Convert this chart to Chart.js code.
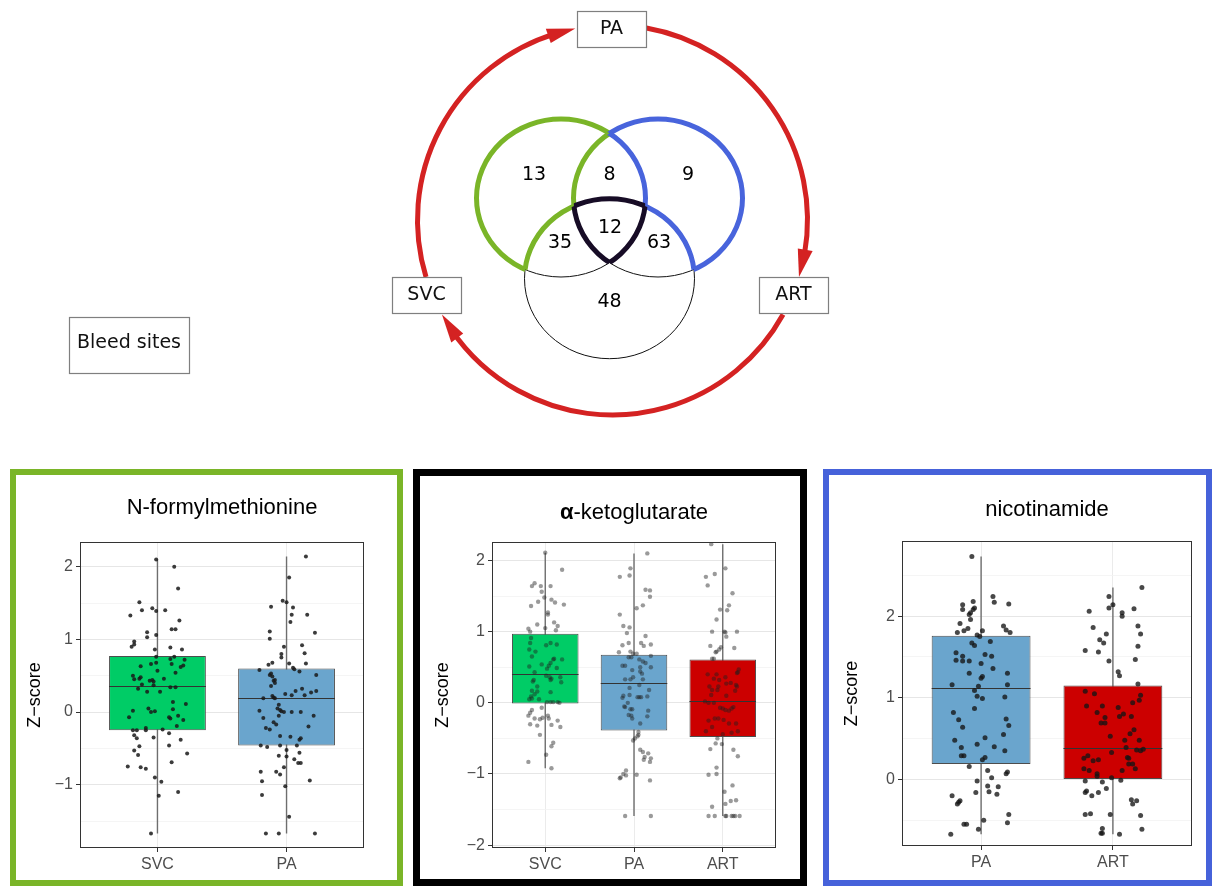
<!DOCTYPE html>
<html>
<head>
<meta charset="utf-8">
<title>Bleed sites – metabolite overlap</title>
<script src="https://cdn.jsdelivr.net/npm/chart.js@4.4.1/dist/chart.umd.min.js"></script>
<style>
  html, body { margin: 0; padding: 0; background: #fff; }
  body { width: 1212px; height: 886px; position: relative; overflow: hidden; }
  .frame { position: absolute; box-sizing: border-box; background: #fff; }
  canvas { position: absolute; left: 0; top: 0; display: block; }
</style>
</head>
<body>
<canvas id="overview" width="1212" height="462"></canvas>

<div class="frame" style="left:10px;top:469px;width:393px;height:417px;border:6px solid #7ab528;">
  <canvas id="fmet" width="381" height="405"></canvas>
</div>
<div class="frame" style="left:413px;top:469px;width:394px;height:417px;border:7px solid #000;">
  <canvas id="akg" width="380" height="403"></canvas>
</div>
<div class="frame" style="left:823px;top:469px;width:389px;height:417px;border:6px solid #4662da;">
  <canvas id="nic" width="377" height="405"></canvas>
</div>

<script>
// ---------------------------------------------------------------------------
// Data
// ---------------------------------------------------------------------------

// Sampling sites around the circulation
const siteNames = ['PA', 'ART', 'SVC'];
const legendLabel = 'Bleed sites';

// Venn regions: S = SVC–PA, A = PA–ART, C = SVC–ART comparisons
const vennRegions = ['S', 'SA', 'A', 'SC', 'SAC', 'AC', 'C'];
const vennCounts  = [13, 8, 9, 35, 12, 63, 48];

// N-formylmethionine
const fmetGroups = ['SVC', 'PA'];
const fmetQ1     = [-0.25, -0.46];
const fmetMedian = [0.36, 0.19];
const fmetQ3     = [0.77, 0.60];
const fmetLow    = [-1.67, -1.67];
const fmetHigh   = [2.10, 2.14];
const fmetYTicks = [-1.5, -1, -0.5, 0, 0.5, 1, 1.5, 2];
// [jitter, z-score]
const fmetSVC = [
  [-0.01,2.10],[0.13,2.00],[0.16,1.70],[-0.14,1.51],[-0.12,1.40],[-0.04,1.43],[-0.01,1.39],[0.06,1.40],[-0.21,1.33],[0.17,1.26],
  [0.11,1.14],[0.14,1.14],[-0.08,1.10],[-0.08,1.03],[-0.01,1.06],[-0.18,0.97],[-0.18,0.93],[-0.20,0.90],[0.10,0.89],[-0.02,0.86],
  [0.19,0.86],[-0.01,0.76],[0.13,0.76],[0.10,0.73],[0.21,0.72],[-0.01,0.68],[-0.05,0.66],[0.11,0.66],[0.20,0.64],[0.18,0.62],
  [-0.13,0.63],[0.00,0.57],[0.14,0.54],[-0.19,0.50],[-0.18,0.45],[-0.14,0.46],[-0.13,0.48],[0.05,0.46],[-0.06,0.43],[-0.04,0.44],
  [-0.03,0.42],[-0.12,0.38],[-0.03,0.37],[0.10,0.34],[0.14,0.34],[-0.15,0.32],[-0.08,0.28],[0.02,0.28],[0.12,0.14],[0.22,0.11],
  [-0.07,0.05],[0.12,0.04],[-0.19,0.02],[-0.05,0.00],[-0.02,0.01],[0.09,-0.07],[0.16,-0.05],[-0.22,-0.07],[0.10,-0.09],[0.20,-0.11],
  [0.15,-0.19],[-0.09,-0.22],[-0.19,-0.25],[-0.16,-0.25],[-0.09,-0.25],[0.04,-0.24],[-0.18,-0.32],[0.09,-0.29],[-0.16,-0.36],[-0.03,-0.35],
  [0.18,-0.38],[-0.14,-0.47],[0.09,-0.46],[-0.18,-0.53],[0.23,-0.57],[-0.15,-0.59],[0.11,-0.69],[-0.23,-0.75],[-0.13,-0.76],[-0.09,-0.78],
  [-0.02,-0.90],[0.03,-0.96],[0.01,-1.15],[0.16,-1.10],[-0.05,-1.67]
];
const fmetPA = [
  [0.15,2.14],[0.02,1.85],[-0.03,1.53],[0.00,1.51],[-0.12,1.45],[0.05,1.44],[0.04,1.34],[0.16,1.34],[0.03,1.24],[-0.13,1.11],
  [0.22,1.09],[-0.13,1.01],[0.12,0.92],[-0.02,0.90],[0.14,0.81],[-0.04,0.80],[-0.04,0.75],[-0.11,0.68],[-0.14,0.65],[0.02,0.67],
  [0.15,0.67],[0.05,0.61],[0.06,0.59],[0.10,0.56],[-0.21,0.58],[-0.13,0.51],[-0.12,0.53],[-0.11,0.49],[0.23,0.51],[-0.09,0.44],
  [-0.10,0.43],[-0.09,0.40],[-0.12,0.36],[0.07,0.29],[0.12,0.32],[-0.01,0.25],[0.04,0.23],[0.14,0.23],[0.19,0.27],[0.23,0.29],
  [-0.11,0.22],[-0.10,0.20],[-0.09,0.19],[-0.18,0.19],[-0.06,0.10],[-0.07,0.05],[-0.05,0.03],[-0.04,0.01],[-0.02,0.00],[-0.21,0.02],
  [0.04,0.00],[0.11,0.00],[-0.06,-0.05],[0.21,-0.05],[-0.18,-0.08],[-0.10,-0.14],[-0.08,-0.17],[0.17,-0.20],[-0.16,-0.22],[-0.13,-0.24],
  [-0.05,-0.33],[0.03,-0.34],[0.11,-0.36],[0.10,-0.38],[0.08,-0.46],[-0.20,-0.46],[-0.15,-0.48],[-0.05,-0.46],[0.00,-0.52],[0.10,-0.56],
  [-0.06,-0.60],[0.00,-0.61],[0.06,-0.65],[0.09,-0.70],[0.11,-0.70],[-0.02,-0.76],[-0.20,-0.82],[-0.08,-0.82],[-0.05,-0.86],[-0.19,-0.95],
  [0.18,-0.94],[-0.01,-1.02],[-0.19,-1.14],[0.02,-1.44],[-0.16,-1.67],[-0.06,-1.67],[0.22,-1.67]
];

// alpha-ketoglutarate
const akgGroups = ['SVC', 'PA', 'ART'];
const akgQ1     = [-0.01, -0.39, -0.48];
const akgMedian = [0.40, 0.285, 0.02];
const akgQ3     = [0.97, 0.675, 0.61];
const akgLow    = [-0.92, -1.59, -1.59];
const akgHigh   = [2.11, 2.10, 2.23];
const akgYTicks = [-2, -1.5, -1, -0.5, 0, 0.5, 1, 1.5, 2];
const akgSVC = [
  [0.00,2.11],[0.19,1.87],[-0.12,1.68],[-0.15,1.64],[-0.05,1.64],[0.06,1.64],[-0.04,1.56],[-0.01,1.48],[0.07,1.45],[0.11,1.41],
  [-0.08,1.42],[0.21,1.38],[-0.16,1.36],[0.03,1.27],[0.03,1.24],[0.10,1.13],[-0.09,1.10],[0.14,1.08],[0.00,1.05],[-0.19,1.04],
  [-0.17,1.00],[0.12,1.02],[-0.16,0.91],[-0.17,0.84],[0.06,0.84],[0.01,0.81],[0.13,0.82],[-0.18,0.75],[-0.11,0.72],[-0.15,0.65],
  [0.10,0.62],[0.09,0.61],[0.19,0.61],[0.06,0.56],[-0.04,0.54],[0.04,0.52],[-0.18,0.51],[0.02,0.48],[0.13,0.49],[-0.12,0.43],
  [0.01,0.38],[0.05,0.36],[0.07,0.34],[0.17,0.36],[-0.14,0.30],[-0.13,0.32],[0.18,0.29],[0.06,0.32],[-0.09,0.23],[-0.15,0.17],
  [-0.09,0.16],[0.06,0.15],[-0.12,0.12],[-0.16,0.09],[-0.18,0.05],[-0.15,0.06],[-0.07,0.05],[0.02,0.01],[0.06,0.01],[0.09,0.01],
  [0.14,0.01],[0.16,0.00],[-0.04,-0.07],[-0.15,-0.10],[-0.17,-0.14],[-0.19,-0.18],[-0.12,-0.22],[-0.06,-0.23],[-0.03,-0.21],[0.03,-0.18],
  [0.04,-0.22],[0.14,-0.25],[-0.17,-0.30],[-0.09,-0.32],[0.07,-0.31],[0.17,-0.34],[-0.06,-0.45],[0.09,-0.56],[0.07,-0.61],[0.01,-0.73],
  [-0.19,-0.83],[0.07,-0.92]
];
const akgPA = [
  [0.15,2.10],[-0.04,1.89],[-0.05,1.79],[-0.16,1.77],[0.13,1.59],[0.18,1.58],[0.18,1.49],[0.10,1.37],[0.03,1.33],[-0.16,1.24],
  [-0.12,1.08],[-0.05,1.06],[-0.08,0.98],[0.13,0.94],[-0.06,0.84],[-0.13,0.81],[0.08,0.84],[0.11,0.80],[0.19,0.82],[-0.17,0.71],
  [-0.04,0.72],[-0.01,0.69],[0.03,0.69],[-0.06,0.64],[-0.03,0.64],[0.06,0.61],[0.19,0.66],[0.10,0.58],[0.13,0.56],[-0.13,0.52],
  [-0.10,0.52],[-0.02,0.46],[0.07,0.50],[0.19,0.50],[0.07,0.44],[0.09,0.41],[-0.01,0.36],[-0.10,0.33],[-0.04,0.33],[0.10,0.33],
  [0.06,0.25],[-0.05,0.21],[0.17,0.18],[-0.12,0.10],[-0.13,0.07],[-0.05,0.11],[0.04,0.08],[0.06,0.08],[0.08,0.08],[0.15,0.09],
  [-0.07,0.00],[-0.11,-0.05],[-0.10,-0.06],[-0.04,-0.09],[-0.02,-0.09],[0.16,-0.11],[-0.06,-0.17],[-0.03,-0.18],[0.15,-0.19],[-0.02,-0.22],
  [0.07,-0.29],[0.05,-0.41],[0.05,-0.45],[0.04,-0.47],[0.01,-0.50],[-0.01,-0.53],[0.07,-0.66],[0.10,-0.69],[0.16,-0.71],[0.12,-0.76],
  [0.19,-0.78],[0.11,-0.80],[0.18,-0.83],[-0.09,-0.95],[-0.12,-1.00],[-0.09,-1.02],[-0.15,-1.05],[-0.16,-1.06],[0.03,-1.01],[0.18,-1.09],
  [-0.10,-1.59],[0.19,-1.59]
];
const akgART = [
  [-0.13,2.23],[0.03,1.89],[-0.19,1.77],[-0.09,1.81],[-0.17,1.65],[0.11,1.54],[0.07,1.37],[-0.03,1.31],[0.05,1.30],[-0.07,1.17],
  [-0.12,1.00],[0.02,1.00],[0.03,0.99],[0.16,1.00],[0.04,0.93],[-0.14,0.80],[-0.02,0.78],[0.13,0.77],[-0.04,0.75],[-0.07,0.72],
  [-0.08,0.71],[-0.12,0.62],[-0.10,0.62],[0.18,0.47],[0.16,0.42],[0.17,0.43],[-0.17,0.40],[-0.07,0.40],[0.03,0.36],[-0.10,0.34],
  [-0.04,0.32],[-0.15,0.23],[-0.05,0.23],[0.09,0.28],[0.04,0.27],[0.15,0.25],[0.16,0.23],[0.14,0.17],[-0.12,0.18],[-0.06,0.18],
  [0.04,0.10],[-0.13,0.11],[-0.20,0.02],[-0.16,0.00],[-0.10,0.00],[-0.03,-0.07],[0.00,-0.08],[0.03,-0.10],[0.12,-0.06],[0.10,-0.08],
  [0.07,-0.11],[-0.16,-0.25],[-0.09,-0.22],[-0.05,-0.22],[0.01,-0.24],[0.07,-0.29],[0.15,-0.29],[-0.12,-0.34],[-0.19,-0.40],[0.00,-0.44],
  [0.10,-0.42],[0.17,-0.40],[-0.06,-0.50],[-0.08,-0.57],[-0.01,-0.58],[-0.14,-0.65],[0.12,-0.66],[0.17,-0.75],[-0.07,-0.91],[-0.16,-1.01],
  [-0.07,-1.00],[0.11,-1.16],[0.02,-1.25],[0.09,-1.38],[0.15,-1.37],[0.03,-1.42],[-0.12,-1.46],[-0.16,-1.59],[-0.09,-1.59],[0.03,-1.59],
  [0.04,-1.59],[0.10,-1.59],[0.12,-1.59],[0.14,-1.59],[0.19,-1.59]
];

// nicotinamide
const nicGroups = ['PA', 'ART'];
const nicQ1     = [0.19, 0.00];
const nicMedian = [1.12, 0.38];
const nicQ3     = [1.76, 1.15];
const nicLow    = [-0.67, -0.67];
const nicHigh   = [2.73, 2.35];
const nicYTicks = [-0.5, 0, 0.5, 1, 1.5, 2, 2.5];
const nicPA = [
  [-0.07,2.73],[0.09,2.24],[0.10,2.17],[0.21,2.15],[-0.14,2.14],[-0.14,2.08],[-0.06,2.18],[-0.05,2.10],[-0.06,2.08],[-0.08,2.04],
  [-0.09,2.02],[-0.08,1.96],[-0.16,1.91],[-0.10,1.85],[-0.13,1.82],[-0.18,1.80],[0.01,1.82],[0.17,1.88],[0.19,1.83],[0.22,1.80],
  [-0.03,1.77],[-0.01,1.75],[0.07,1.69],[-0.07,1.67],[-0.05,1.64],[-0.19,1.55],[-0.19,1.46],[-0.14,1.51],[-0.14,1.45],[-0.09,1.45],
  [0.03,1.53],[0.08,1.51],[0.00,1.42],[0.09,1.36],[-0.09,1.30],[0.01,1.26],[0.00,1.24],[0.20,1.30],[-0.22,1.16],[0.20,1.16],
  [-0.02,1.14],[-0.05,1.09],[-0.03,1.02],[0.01,0.99],[0.18,1.01],[-0.05,0.87],[-0.21,0.82],[-0.17,0.73],[0.19,0.74],[-0.14,0.64],
  [0.21,0.66],[0.17,0.55],[-0.20,0.48],[0.03,0.51],[-0.03,0.43],[-0.15,0.39],[0.10,0.40],[0.18,0.35],[-0.15,0.29],[-0.13,0.29],
  [0.01,0.24],[0.03,0.27],[-0.09,0.16],[0.05,0.11],[0.20,0.09],[0.19,0.07],[0.08,0.02],[-0.03,-0.02],[0.05,-0.08],[0.13,-0.09],
  [-0.04,-0.16],[0.06,-0.15],[0.12,-0.18],[-0.22,-0.20],[-0.16,-0.26],[-0.17,-0.28],[-0.18,-0.30],[0.21,-0.43],[0.02,-0.50],[-0.13,-0.55],
  [-0.11,-0.55],[0.20,-0.53],[-0.02,-0.61],[-0.23,-0.67]
];
const nicART = [
  [0.22,2.35],[-0.03,2.24],[0.00,2.14],[-0.03,2.10],[-0.18,2.06],[0.07,2.04],[0.07,2.00],[0.16,2.09],[-0.15,1.86],[0.19,1.88],
  [-0.05,1.78],[0.21,1.78],[-0.10,1.71],[-0.07,1.67],[0.19,1.63],[-0.21,1.58],[-0.11,1.56],[0.17,1.47],[-0.03,1.45],[0.04,1.32],
  [0.05,1.27],[0.19,1.17],[-0.21,1.08],[-0.14,1.05],[0.21,1.03],[0.20,0.97],[-0.20,0.90],[-0.08,0.90],[0.04,0.88],[0.15,0.94],
  [-0.12,0.82],[0.08,0.80],[0.05,0.77],[0.14,0.77],[-0.06,0.76],[-0.09,0.69],[-0.06,0.69],[0.16,0.61],[0.13,0.56],[-0.02,0.53],
  [0.20,0.48],[0.09,0.48],[0.10,0.39],[0.18,0.36],[0.21,0.35],[0.23,0.37],[-0.01,0.33],[-0.19,0.29],[-0.22,0.26],[-0.15,0.23],
  [-0.11,0.24],[0.11,0.27],[0.12,0.26],[0.12,0.19],[0.15,0.19],[0.17,0.13],[-0.22,0.13],[-0.18,0.11],[0.07,0.11],[-0.12,0.07],
  [-0.12,0.04],[-0.01,0.02],[0.06,-0.01],[-0.21,-0.02],[-0.08,-0.03],[-0.20,-0.14],[-0.21,-0.16],[-0.16,-0.20],[-0.11,-0.16],[-0.05,-0.11],
  [0.14,-0.25],[0.15,-0.30],[0.18,-0.26],[-0.21,-0.43],[-0.17,-0.42],[-0.02,-0.43],[0.21,-0.44],[-0.08,-0.60],[0.22,-0.61],[-0.09,-0.66],
  [-0.08,-0.66],[0.05,-0.67]
];

// ---------------------------------------------------------------------------
// Styling
// ---------------------------------------------------------------------------
const siteFill = { SVC: '#00cc66', PA: '#6aa5cd', ART: '#cc0000' };
const GREEN = '#7ab528', BLUE = '#4864dc', DARK = '#170c26', RED = '#d42222';
const SANS = '"Liberation Sans", Arial, sans-serif';
const VERD = '"DejaVu Sans", Verdana, sans-serif';

// ---------------------------------------------------------------------------
// Overview: circulation ring with the three bleed sites and the Venn diagram
// ---------------------------------------------------------------------------
const overviewLayout = {
  ring: { cx: 612.5, cy: 220, r: 195, width: 5 },
  // arcs in degrees (clockwise, screen orientation): SVC→PA, PA→ART, ART→SVC
  arcs: [[163, 259], [-80, 17], [29, 151]],
  arrow: { len: 28, half: 7.5 },
  boxes: { PA: [577, 11, 69, 36], ART: [759, 277, 69, 36], SVC: [392, 277, 69, 36] },
  legendBox: [69, 317, 120, 56],
  ellipses: {
    S: { cx: 561, cy: 198, rx: 84.5, ry: 79 },
    A: { cx: 658, cy: 198, rx: 84.5, ry: 79 },
    C: { cx: 609.5, cy: 278.7, rx: 85, ry: 80 }
  },
  regionPos: { S: [534, 175], SA: [609.5, 175], A: [688, 175], SC: [560, 243], SAC: [610, 228], AC: [659, 243], C: [609.5, 302] }
};

const overviewPlugin = {
  id: 'overviewDrawing',
  afterDraw(chart) {
    const { ctx, scales: { x, y }, width, height } = chart;
    const L = overviewLayout;
    const X = v => x.getPixelForValue(v);
    const Y = v => y.getPixelForValue(v);
    const deg = d => d * Math.PI / 180;

    // --- ring arcs with arrowheads
    const cx = X(L.ring.cx), cy = Y(L.ring.cy), r = X(L.ring.cx + L.ring.r) - cx;
    ctx.save();
    ctx.strokeStyle = RED; ctx.fillStyle = RED; ctx.lineWidth = L.ring.width; ctx.lineCap = 'butt';
    L.arcs.forEach(([a0, a1]) => {
      const s = deg(a0), e = deg(a1), back = L.arrow.len / r;
      ctx.beginPath();
      ctx.arc(cx, cy, r, s, e - back * 0.6, false);
      ctx.stroke();
      const b = e - back;
      const tx = cx + r * Math.cos(e), ty = cy + r * Math.sin(e);
      const bx = cx + r * Math.cos(b), by = cy + r * Math.sin(b);
      const nx = Math.cos(b), ny = Math.sin(b);
      ctx.beginPath();
      ctx.moveTo(tx, ty);
      ctx.lineTo(bx + nx * L.arrow.half, by + ny * L.arrow.half);
      ctx.lineTo(bx - nx * L.arrow.half, by - ny * L.arrow.half);
      ctx.closePath();
      ctx.fill();
    });
    ctx.restore();

    // --- site boxes and the legend box
    const drawLabelBox = (rect, text, dy) => {
      const [bx, by, bw, bh] = rect;
      const px = X(bx), py = Y(by), pw = X(bx + bw) - px, ph = Y(by + bh) - py;
      ctx.save();
      ctx.fillStyle = '#fff'; ctx.fillRect(px, py, pw, ph);
      ctx.strokeStyle = '#7f7f7f'; ctx.lineWidth = 1.2;
      ctx.strokeRect(Math.round(px) + 0.5, Math.round(py) + 0.5, Math.round(pw), Math.round(ph));
      ctx.fillStyle = '#111'; ctx.font = '19px ' + VERD;
      ctx.textAlign = 'center'; ctx.textBaseline = 'middle';
      ctx.fillText(text, px + pw / 2, py + ph / 2 + (dy || 0));
      ctx.restore();
    };
    siteNames.forEach(name => drawLabelBox(L.boxes[name], name, 0));
    drawLabelBox(L.legendBox, legendLabel, -2);

    // --- Venn diagram
    const E = L.ellipses;
    const ellipsePath = e => {
      const ex = X(e.cx), ey = Y(e.cy);
      ctx.ellipse(ex, ey, Math.abs(X(e.cx + e.rx) - ex), Math.abs(Y(e.cy + e.ry) - ey), 0, 0, Math.PI * 2);
    };
    const clipIn = e => { ctx.beginPath(); ellipsePath(e); ctx.clip(); };
    const clipOut = e => { ctx.beginPath(); ctx.rect(0, 0, width, height); ellipsePath(e); ctx.clip('evenodd'); };

    ctx.save();
    ctx.strokeStyle = '#111'; ctx.lineWidth = 1;
    ['S', 'A', 'C'].forEach(k => { ctx.beginPath(); ellipsePath(E[k]); ctx.stroke(); });
    ctx.restore();

    // region outlines: [ellipse stroked, inside of, outside of, colour]
    const outlines = [
      ['S', [], ['A', 'C'], GREEN], ['A', ['S'], ['C'], GREEN], ['C', ['S'], ['A'], GREEN],
      ['A', [], ['S', 'C'], BLUE],  ['S', ['A'], ['C'], BLUE],  ['C', ['A'], ['S'], BLUE],
      ['S', ['A', 'C'], [], DARK],  ['A', ['S', 'C'], [], DARK], ['C', ['S', 'A'], [], DARK]
    ];
    outlines.forEach(([k, ins, outs, col]) => {
      ctx.save();
      ins.forEach(i => clipIn(E[i]));
      outs.forEach(o => clipOut(E[o]));
      ctx.strokeStyle = col; ctx.lineWidth = 5;
      ctx.beginPath(); ellipsePath(E[k]); ctx.stroke();
      ctx.restore();
    });

    ctx.save();
    ctx.fillStyle = '#000'; ctx.font = '19px ' + VERD;
    ctx.textAlign = 'center'; ctx.textBaseline = 'middle';
    vennRegions.forEach((reg, i) => {
      const [px, py] = L.regionPos[reg];
      ctx.fillText(String(vennCounts[i]), X(px), Y(py));
    });
    ctx.restore();
  }
};

new Chart(document.getElementById('overview'), {
  type: 'scatter',
  data: { datasets: [] },
  options: {
    responsive: false, animation: false, devicePixelRatio: 1, events: [],
    layout: { padding: 0 },
    plugins: { legend: { display: false }, tooltip: { enabled: false } },
    scales: {
      x: { type: 'linear', min: 0, max: 1212, display: false },
      y: { type: 'linear', min: 0, max: 462, reverse: true, display: false }
    }
  },
  plugins: [overviewPlugin]
});

// ---------------------------------------------------------------------------
// Box plots with jittered points
// ---------------------------------------------------------------------------
const fmtTick = v => (v < 0 ? '\u2212' + Math.abs(v) : String(v));
const isMajor = v => Math.abs(v - Math.round(v)) < 1e-9;

function drawBoxPanel(canvasId, cfg) {
  const n = cfg.groups.length;
  const boxData = cfg.groups.map((g, i) => ({ x: i + 1, y: [cfg.q1[i], cfg.q3[i]] }));
  const pointData = [];
  cfg.points.forEach((grp, i) => grp.forEach(([dx, z]) => pointData.push({ x: i + 1 + dx, y: z })));
  const titleFont = { family: SANS, size: 22, weight: 'normal', lineHeight: 1.2 };

  const boxParts = {
    id: 'boxParts',
    beforeDatasetsDraw(chart) {
      const meta = chart.getDatasetMeta(1), ys = chart.scales.y, ctx = chart.ctx;
      ctx.save();
      ctx.strokeStyle = '#6e6e6e'; ctx.lineWidth = 1.4;
      meta.data.forEach((bar, i) => {
        ctx.beginPath();
        ctx.moveTo(bar.x, ys.getPixelForValue(cfg.low[i]));
        ctx.lineTo(bar.x, ys.getPixelForValue(cfg.high[i]));
        ctx.stroke();
      });
      ctx.restore();
    },
    afterDatasetDraw(chart, args) {
      if (args.index !== 1) return;
      const ys = chart.scales.y, ctx = chart.ctx;
      ctx.save();
      ctx.strokeStyle = '#333'; ctx.lineWidth = 1;
      args.meta.data.forEach((bar, i) => {
        const py = Math.round(ys.getPixelForValue(cfg.median[i])) + 0.5;
        ctx.beginPath();
        ctx.moveTo(bar.x - bar.width / 2, py);
        ctx.lineTo(bar.x + bar.width / 2, py);
        ctx.stroke();
      });
      ctx.restore();
    },
    afterDraw(chart) {
      const ctx = chart.ctx, a = chart.chartArea;
      ctx.save();
      ctx.strokeStyle = '#333'; ctx.lineWidth = 1;
      ctx.strokeRect(Math.round(a.left) + 0.5, Math.round(a.top) + 0.5,
                     Math.round(a.right - a.left) - 1, Math.round(a.bottom - a.top) - 1);
      if (cfg.segments) {
        const tb = chart.titleBlock;
        const cy = tb.top + cfg.titlePad.top + titleFont.size * titleFont.lineHeight / 2;
        const fonts = cfg.segments.map(s => (s.bold ? 'bold ' : 'normal ') + titleFont.size + 'px ' + SANS);
        const widths = cfg.segments.map((s, i) => { ctx.font = fonts[i]; return ctx.measureText(s.text).width; });
        let px = (tb.left + tb.right) / 2 - widths.reduce((p, w) => p + w, 0) / 2;
        ctx.fillStyle = '#000'; ctx.textBaseline = 'middle'; ctx.textAlign = 'left';
        cfg.segments.forEach((s, i) => { ctx.font = fonts[i]; ctx.fillText(s.text, px, cy); px += widths[i]; });
      }
      ctx.restore();
    }
  };

  return new Chart(document.getElementById(canvasId), {
    type: 'bar',
    data: {
      datasets: [
        {
          type: 'scatter', data: pointData, order: 0,
          pointRadius: cfg.pointRadius, pointHoverRadius: cfg.pointRadius,
          pointBackgroundColor: cfg.pointColor, pointBorderWidth: 0,
          backgroundColor: cfg.pointColor, borderColor: 'rgba(0,0,0,0)'
        },
        {
          type: 'bar', data: boxData, order: 1,
          backgroundColor: cfg.groups.map(g => siteFill[g]),
          borderColor: '#4d4d4d', borderWidth: 1, borderSkipped: false,
          barPercentage: 0.75, categoryPercentage: 1
        }
      ]
    },
    options: {
      responsive: false, animation: false, devicePixelRatio: 1, events: [],
      layout: { padding: cfg.pad },
      plugins: {
        legend: { display: false }, tooltip: { enabled: false },
        title: {
          display: true, text: cfg.title, fullSize: false, position: 'top',
          color: cfg.segments ? 'rgba(0,0,0,0)' : '#000',
          font: titleFont, padding: cfg.titlePad
        }
      },
      scales: {
        x: {
          type: 'linear', min: 0.4, max: n + 0.6, offset: false,
          afterBuildTicks: s => { s.ticks = cfg.groups.map((g, i) => ({ value: i + 1 })); },
          afterFit: s => { s.height = 28; },
          ticks: {
            callback: v => cfg.groups[Math.round(v) - 1],
            color: '#4d4d4d', font: { family: SANS, size: 16 }, padding: 3,
            maxRotation: 0, autoSkip: false
          },
          grid: { offset: false, color: '#ebebeb', lineWidth: 1, tickLength: 4, tickColor: '#333', tickWidth: 1 },
          border: { display: false }
        },
        y: {
          type: 'linear', min: cfg.yMin, max: cfg.yMax,
          afterBuildTicks: s => { s.ticks = cfg.yTicks.map(v => ({ value: v })); },
          afterFit: s => { s.width = cfg.yWidth; },
          ticks: {
            callback: v => (isMajor(v) ? fmtTick(v) : ''),
            color: '#4d4d4d', font: { family: SANS, size: 16 }, padding: 3, autoSkip: false
          },
          grid: {
            color: c => (isMajor(c.tick.value) ? '#e6e6e6' : '#f3f3f3'),
            lineWidth: c => (isMajor(c.tick.value) ? 1 : 0.8),
            tickColor: c => (isMajor(c.tick.value) ? '#333' : 'rgba(0,0,0,0)'),
            tickLength: 4, tickWidth: 1
          },
          border: { display: false },
          title: {
            display: true, text: 'Z\u2212score', color: '#000',
            font: { family: SANS, size: 18, lineHeight: 1.2 },
            padding: { top: cfg.yTitlePad, bottom: 0 }
          }
        }
      }
    },
    plugins: [boxParts]
  });
}

drawBoxPanel('fmet', {
  title: 'N-formylmethionine',
  groups: fmetGroups, q1: fmetQ1, median: fmetMedian, q3: fmetQ3, low: fmetLow, high: fmetHigh,
  points: [fmetSVC, fmetPA], yTicks: fmetYTicks, yMin: -1.87, yMax: 2.34,
  pointRadius: 2, pointColor: 'rgba(25,25,25,0.85)',
  pad: { left: 0, right: 33, top: 0, bottom: 4 }, yWidth: 64, yTitlePad: 8,
  titlePad: { top: 19.8, bottom: 20.8 }
});

drawBoxPanel('akg', {
  title: '\u03b1-ketoglutarate',
  segments: [{ text: '\u03b1', bold: true }, { text: '-ketoglutarate', bold: false }],
  groups: akgGroups, q1: akgQ1, median: akgMedian, q3: akgQ3, low: akgLow, high: akgHigh,
  points: [akgSVC, akgPA, akgART], yTicks: akgYTicks, yMin: -2.04, yMax: 2.26,
  pointRadius: 2.2, pointColor: 'rgba(30,30,30,0.45)',
  pad: { left: 0, right: 24, top: 0, bottom: 3 }, yWidth: 72, yTitlePad: 12.5,
  titlePad: { top: 23.5, bottom: 16.1 }
});

drawBoxPanel('nic', {
  title: 'nicotinamide',
  groups: nicGroups, q1: nicQ1, median: nicMedian, q3: nicQ3, low: nicLow, high: nicHigh,
  points: [nicPA, nicART], yTicks: nicYTicks, yMin: -0.815, yMax: 2.92,
  pointRadius: 2.5, pointColor: 'rgba(20,20,20,0.78)',
  pad: { left: 0, right: 14, top: 0, bottom: 6 }, yWidth: 73, yTitlePad: 12.5,
  titlePad: { top: 21.8, bottom: 17.8 }
});
</script>
</body>
</html>
